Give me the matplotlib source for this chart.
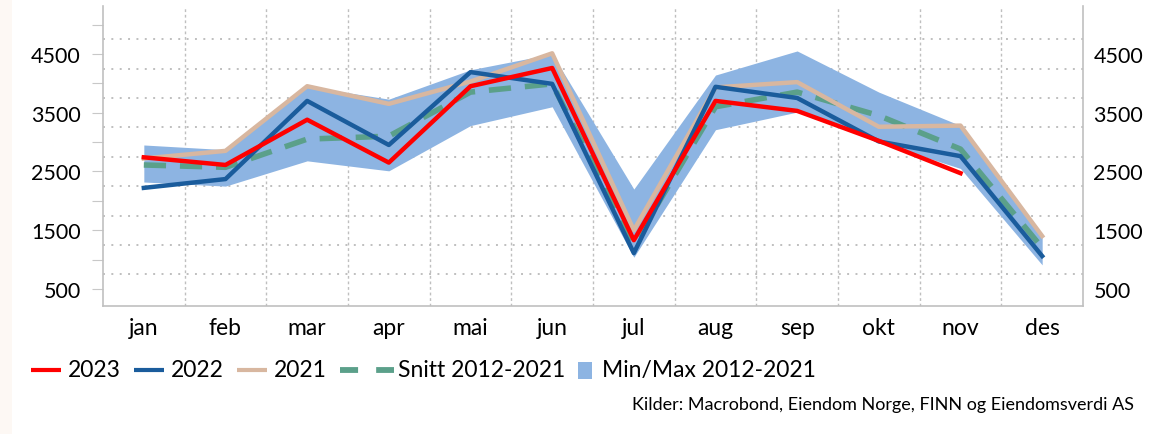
import matplotlib
matplotlib.use("Agg")
import matplotlib.pyplot as plt
from matplotlib.patches import Rectangle
from matplotlib.lines import Line2D

months = ["jan", "feb", "mar", "apr", "mai", "jun", "jul", "aug", "sep", "okt", "nov", "des"]
y2023 = [2740, 2610, 3380, 2650, 3950, 4260, 1330, 3700, 3530, 3020, 2470]
y2022 = [2220, 2370, 3700, 2950, 4190, 3990, 1110, 3940, 3750, 3010, 2760, 1060]
y2021 = [2720, 2850, 3950, 3650, 4030, 4510, 1500, 3930, 4020, 3260, 3280, 1400]
snitt = [2610, 2570, 3050, 3100, 3850, 3990, 1260, 3600, 3850, 3450, 2880, 1200]
band_max = [2950, 2870, 3950, 3730, 4230, 4500, 2200, 4140, 4550, 3850, 3280, 1400]
band_min = [2320, 2250, 2680, 2510, 3280, 3600, 1040, 3210, 3510, 3000, 2550, 910]
yticks = [500, 1500, 2500, 3500, 4500]
legend_labels = ["2023", "2022", "2021", "Snitt 2012-2021", "Min/Max 2012-2021"]
source = "Kilder: Macrobond, Eiendom Norge, FINN og Eiendomsverdi AS"

C_RED, C_BLUE, C_TAN, C_GREEN, C_BAND = "#ff0000", "#1a5c9c", "#d8b7a0", "#5ba08a", "#8db4e2"

plt.rcParams["font.family"] = ["Lato", "DejaVu Sans"]

W, H = 1150, 435
fig = plt.figure(figsize=(W / 100, H / 100), dpi=100)
fig.patches.append(Rectangle((0, 0), 12 / W, 1, transform=fig.transFigure,
                             facecolor="#fdf8f4", edgecolor="none", zorder=0))
ax = fig.add_axes([103 / W, 1 - 307 / H, (1083 - 103) / W, 300 / H])

x = list(range(len(months)))
ax.fill_between(x, band_min, band_max, color=C_BAND, lw=0, zorder=2)
ax.plot(x, snitt, color=C_GREEN, lw=4, dashes=(4, 2.5), zorder=3)
ax.plot(x, y2021, color=C_TAN, lw=3.2, zorder=4)
ax.plot(x, y2022, color=C_BLUE, lw=3.2, zorder=5)
ax.plot(range(len(y2023)), y2023, color=C_RED, lw=3.2, zorder=6)

ymin, ymax = 210, 5315
ax.set_xlim(-0.5, 11.5)
ax.set_ylim(ymin, ymax)

for gx in [i + 0.5 for i in range(11)]:
    ax.axvline(gx, color="#bfbfbf", lw=1, ls=(0, (2, 2)), zorder=1)
for gy in range(750, 5000, 500):
    ax.axhline(gy, color="#bfbfbf", lw=1.4, ls=(0, (1, 3.3)), zorder=1)

ax.set_xticks(x)
ax.set_xticklabels(months, fontsize=16.5)
ax.tick_params(axis="x", length=0, pad=8)
ax.set_yticks(range(500, 5001, 500))
ax.set_yticklabels([str(v) if v in yticks else "" for v in range(500, 5001, 500)], fontsize=15.5)
ax.tick_params(axis="y", length=8, color="#c8c8c8", pad=8)

ax.spines["top"].set_visible(False)
for s in ["left", "right", "bottom"]:
    ax.spines[s].set_color("#c0c0c0")
    ax.spines[s].set_linewidth(1.2)

ax2 = ax.twinx()
ax2.set_ylim(ymin, ymax)
ax2.set_yticks(yticks)
ax2.set_yticklabels([str(v) for v in yticks], fontsize=15.5)
ax2.tick_params(axis="y", length=0, pad=7.5)
for s in ax2.spines.values():
    s.set_visible(False)

# legend drawn manually (handles of differing widths)
renderer = fig.canvas.get_renderer()
ly = 371
def fx(px):
    return px / W
def fy(py):
    return 1 - py / H

cursor = 31
handle_specs = [
    ("line", C_RED), ("line", C_BLUE), ("line", C_TAN), ("dash", C_GREEN), ("patch", C_BAND)
]
for (kind, col), lab in zip(handle_specs, legend_labels):
    if kind == "line":
        fig.add_artist(Line2D([fx(cursor), fx(cursor + 30)], [fy(ly), fy(ly)], color=col, lw=3,
                              solid_capstyle="butt", transform=fig.transFigure))
        cursor += 37
    elif kind == "dash":
        fig.add_artist(Line2D([fx(cursor), fx(cursor + 54)], [fy(ly), fy(ly)], color=col, lw=4.2,
                              dashes=(3.1, 3.1), dash_capstyle="butt", transform=fig.transFigure))
        cursor += 58
    else:
        fig.add_artist(Rectangle((fx(cursor), fy(ly + 9)), 14 / W, 17 / H, facecolor=col,
                                 edgecolor="none", transform=fig.transFigure))
        cursor += 24
    t = fig.text(fx(cursor), fy(ly), lab, ha="left", va="center", fontsize=16.5)
    bb = t.get_window_extent(renderer=renderer)
    cursor = bb.x1 + 13

fig.text(1134 / W, fy(405), source, ha="right", va="center", fontsize=13)

fig.savefig("out.png", dpi=100)
